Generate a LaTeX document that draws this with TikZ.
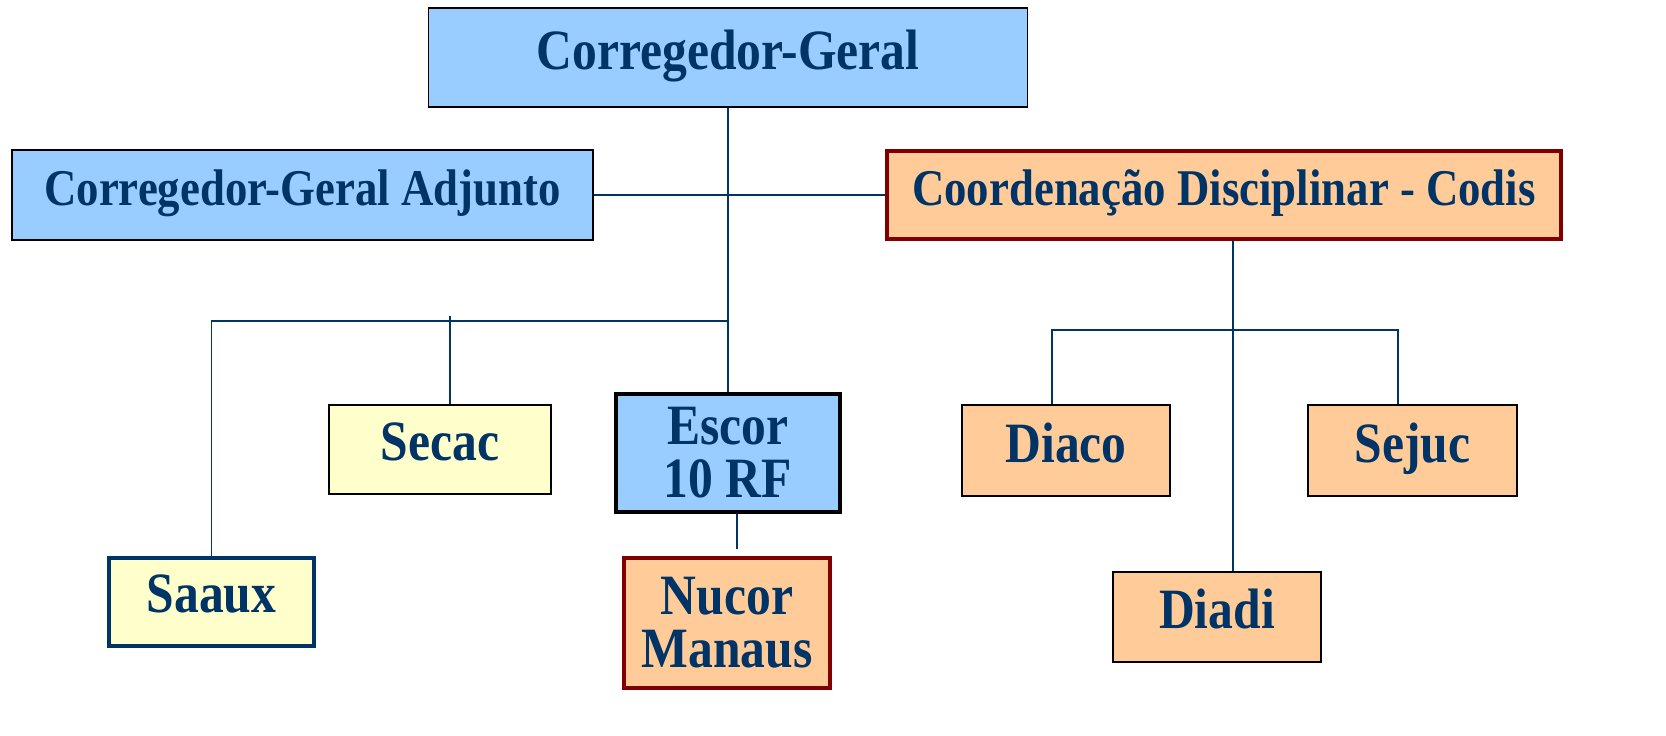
\documentclass[tikz,border=0pt]{standalone}
\usepackage{fontspec}
\newfontfamily\boxfont{Liberation Serif}[FakeStretch=0.87]
\definecolor{lblue}{HTML}{99CCFF}
\definecolor{lyellow}{HTML}{FFFFCC}
\definecolor{peach}{HTML}{FFCC99}
\definecolor{dred}{HTML}{800000}
\definecolor{navy}{HTML}{003366}
\begin{document}
\begin{tikzpicture}[x=0.5pt,y=-0.5pt,
  box/.style={rectangle, draw=black, line width=0.7pt, inner sep=0pt, align=center,
    text=navy, font=\boxfont\bfseries\fontsize{28.5}{26.5}\selectfont},
  headbox/.style={box, font=\boxfont\bfseries\fontsize{25.75}{26}\selectfont},
  redbox/.style={draw=dred, line width=2.4pt},
  conn/.style={draw=navy, line width=0.8pt}]
\useasboundingbox (0,0) rectangle (1666,735);
% boxes
\node[box, fill=lblue, minimum width=299.5pt, minimum height=49.5pt] (cg) at (728,57.5) {Corregedor-Geral\strut};
\node[headbox, fill=lblue, minimum width=290.5pt, minimum height=45pt] (adj) at (302.5,195) {Corregedor-Geral Adjunto\strut};
\node[headbox, fill=peach, redbox, minimum width=337pt, minimum height=44pt] (codis) at (1224,195) {Coordenação Disciplinar - Codis\strut};
\node[box, fill=lyellow, minimum width=111pt, minimum height=44.5pt] (secac) at (440,449.5) {Secac\strut};
\node[box, fill=lblue, line width=2pt, minimum width=112pt, minimum height=59pt] (escor) at (728,453) {Escor\\10 RF};
\node[box, fill=lyellow, draw=navy, line width=2.4pt, minimum width=102.5pt, minimum height=44pt] (saaux) at (211.5,602) {Saaux\strut};
\node[box, fill=peach, redbox, minimum width=103pt, minimum height=65pt] (nucor) at (727,623) {Nucor\\Manaus};
\node[box, fill=peach, minimum width=104pt, minimum height=45.5pt] (diaco) at (1066,450.5) {Diaco\strut};
\node[box, fill=peach, minimum width=104.5pt, minimum height=45.5pt] (sejuc) at (1412.5,450.5) {Sejuc\strut};
\node[box, fill=peach, minimum width=104pt, minimum height=45pt] (diadi) at (1217,617) {Diadi\strut};
% junction coordinates
\coordinate (j1) at (728,321);
\coordinate (sj) at (450,316);
\coordinate (nj) at (737,549);
\coordinate (cj) at (1233,330);
\coordinate (hl) at (1052,330);
\coordinate (hr) at (1398,330);
% connectors
\draw[conn] (cg.south) -- (escor.north);
\draw[conn] (adj.east) -- (codis.west);
\draw[conn] (j1) -| (saaux.north);
\draw[conn] (sj) -- (secac.north -| sj);
\draw[conn] (escor.south -| nj) -- (nj);
\draw[conn] (codis.south -| cj) -- (diadi.north -| cj);
\draw[conn] (diaco.north -| hl) -- (hl) -- (hr) -- (sejuc.north -| hr);
\end{tikzpicture}
\end{document}
